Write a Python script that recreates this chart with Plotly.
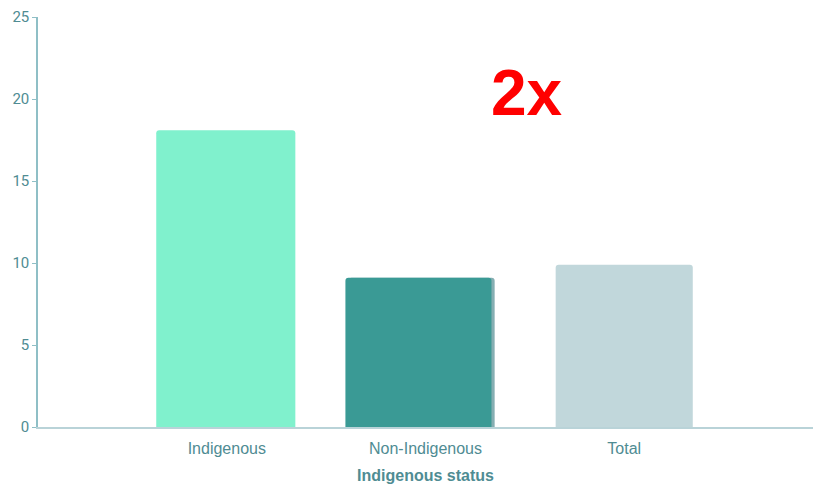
import plotly.graph_objects as go

# Rate by Indigenous status
categories = ["Indigenous", "Non-Indigenous", "Total"]
values = [18.1, 9.1, 9.9]
bar_colors = ["#80F1CD", "#3A9A95", "#C1D7DB"]
y_ticks = [0, 5, 10, 15, 20, 25]

axis_color = "#8FBFC6"
label_color = "#4F8C93"

bar_widths = [0.70, 0.735, 0.69]
bar_offsets = [-0.355, -0.403, -0.345]

fig = go.Figure()

# soft shadow behind the middle bar
fig.add_trace(go.Bar(
    x=categories,
    y=[None, values[1], None],
    width=bar_widths,
    offset=[o + 0.016 for o in bar_offsets],
    marker=dict(color="#86AEB2", line=dict(width=0)),
    hoverinfo="skip",
    showlegend=False,
))

fig.add_trace(go.Bar(
    x=categories,
    y=values,
    width=bar_widths,
    offset=bar_offsets,
    marker=dict(color=bar_colors, line=dict(width=0)),
    showlegend=False,
))

fig.add_annotation(
    text="<b>2x</b>",
    xref="paper", yref="y",
    x=0.631, y=20.35,
    showarrow=False,
    font=dict(family="Liberation Sans, Arial, sans-serif", size=64, color="#FF0000"),
    xanchor="center", yanchor="middle",
)

fig.update_layout(
    width=813, height=486,
    margin=dict(l=38, r=0, t=17, b=59),
    paper_bgcolor="white",
    plot_bgcolor="white",
    barmode="overlay",
    barcornerradius=3,
    font=dict(family="Roboto, Liberation Sans, sans-serif", color=label_color),
    xaxis=dict(
        range=[-0.95, 2.95],
        showgrid=False,
        showline=True, linecolor="#B9D3D8", linewidth=2,
        ticks="",
        ticklabelstandoff=6,
        tickfont=dict(size=16, family="Liberation Sans, Arial, sans-serif", color=label_color),
        title=dict(text="<b>Indigenous status</b>", standoff=14,
                   font=dict(size=16, family="Liberation Sans, Arial, sans-serif", color=label_color)),
        zeroline=False,
    ),
    yaxis=dict(
        range=[0, 25],
        tickvals=y_ticks,
        showgrid=False,
        showline=True, linecolor=axis_color, linewidth=1.5,
        ticks="outside", ticklen=4, tickcolor=axis_color,
        tickfont=dict(size=15, color=label_color),
        zeroline=False,
    ),
)

fig.write_html("out.html")
